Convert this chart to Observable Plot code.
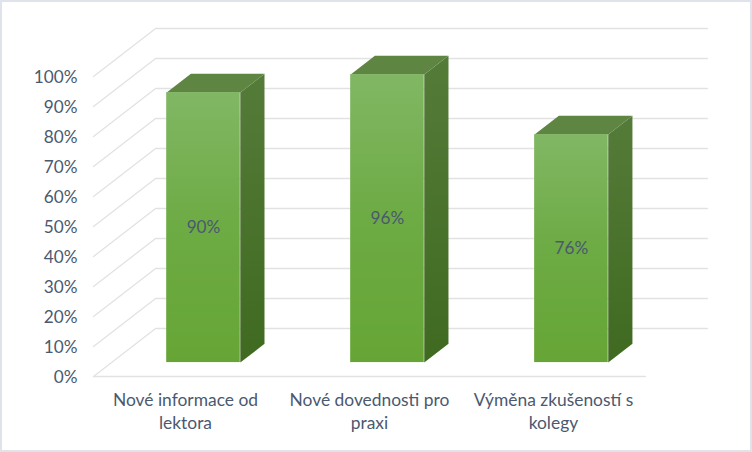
<!DOCTYPE html>
<html><head><meta charset="utf-8">
<script src="https://cdn.jsdelivr.net/npm/d3@7"></script>
<script src="https://cdn.jsdelivr.net/npm/@observablehq/plot@0.6"></script>
<style>
html,body{margin:0;padding:0;background:#fff;width:752px;height:452px;overflow:hidden}
#frame{position:absolute;left:0;top:0;width:752px;height:452px;box-sizing:border-box;border:2px solid #e0e3ea;pointer-events:none}
</style></head><body>
<div id="chart"></div><div id="frame"></div>
<script>
const categories = ["Nové informace od\nlektora", "Nové dovednosti pro\npraxi", "Výměna zkušeností s\nkolegy"];
const values = [90, 96, 76];
const valueLabels = ["90%", "96%", "76%"];
const yTicks = [0, 10, 20, 30, 40, 50, 60, 70, 80, 90, 100];

// Oblique 3D projection expressed in data units
const depthX = 0.3375, depthY = 16;
const barWidth = 0.4, barNear = 0.29, barFar = 0.68;
const proj = (cat, v, depth) => ({x: cat + depth * depthX, y: v + depth * depthY});

const gridRows = yTicks.map(t => [proj(3, t, 1), proj(0, t, 1), proj(0, t, 0)].map(p => ({...p, tick: t}))).flat();
const floorFront = [proj(0, 0, 0), proj(3, 0, 0)];

const bars = values.map((v, i) => ({v, c: i + 0.5, l: i + 0.5 - barWidth / 2, r: i + 0.5 + barWidth / 2, i}));
const front = bars.map(b => {
  const a = proj(b.l, 0, barNear), c = proj(b.r, b.v, barNear);
  return {x1: a.x, x2: c.x, y1: a.y, y2: c.y};
});
const side = bars.flatMap(b => [proj(b.r, 0, barNear), proj(b.r, b.v, barNear), proj(b.r, b.v, barFar), proj(b.r, 0, barFar)].map(p => ({...p, i: b.i})));
const top_ = bars.flatMap(b => [proj(b.l, b.v, barNear), proj(b.r, b.v, barNear), proj(b.r, b.v, barFar), proj(b.l, b.v, barFar)].map(p => ({...p, i: b.i})));
const barLabels = bars.map((b, i) => ({...proj(b.c, b.v / 2, barNear), t: valueLabels[i]}));
const catLabels = categories.map((t, i) => ({x: i + 0.5, y: 0, t}));

const textColor = "#4a5970";
const gridColor = "#e2e2e2";
const chart = Plot.plot({
  width: 752, height: 452,
  marginLeft: 93, marginRight: 45, marginTop: 28, marginBottom: 76,
  style: {fontFamily: "Lato, sans-serif", background: "#fff", overflow: "visible"},
  x: {domain: [0, 3 + depthX], axis: null},
  y: {domain: [0, 100 + depthY]},
  marks: [
    Plot.line(gridRows, {x: "x", y: "y", z: "tick", stroke: gridColor, strokeWidth: 1.3}),
    Plot.line(floorFront, {x: "x", y: "y", stroke: gridColor, strokeWidth: 1.3}),
    Plot.axisY({ticks: yTicks, tickSize: 0, tickPadding: 16, tickFormat: d => d + "%", label: null, fontSize: 17.2, fill: textColor, dy: 0.5}),
    Plot.line(side, {x: "x", y: "y", z: "i", fill: "url(#sideGrad)", stroke: "none"}),
    Plot.line(top_, {x: "x", y: "y", z: "i", fill: "#5e8542", stroke: "none"}),
    Plot.rect(front, {x1: "x1", x2: "x2", y1: "y1", y2: "y2", fill: "url(#frontGrad)"}),
    Plot.text(barLabels, {x: "x", y: "y", text: "t", fontSize: 17.2, fill: textColor}),
    Plot.text(catLabels, {x: "x", y: "y", text: "t", fontSize: 17.4, fill: textColor, lineAnchor: "top", dy: 13, lineHeight: 1.33})
  ]
});
const defs = d3.select(chart).insert("defs", ":first-child");
const grad = (id, stops) => {
  const g = defs.append("linearGradient").attr("id", id).attr("x1", 0).attr("y1", 0).attr("x2", 0).attr("y2", 1);
  stops.forEach(([o, c]) => g.append("stop").attr("offset", o).attr("stop-color", c));
};
grad("frontGrad", [[0, "#81b764"], [0.5, "#6dab44"], [1, "#66a535"]]);
grad("sideGrad", [[0, "#557b39"], [1, "#3f6a20"]]);
document.getElementById("chart").append(chart);
</script>
</body></html>
